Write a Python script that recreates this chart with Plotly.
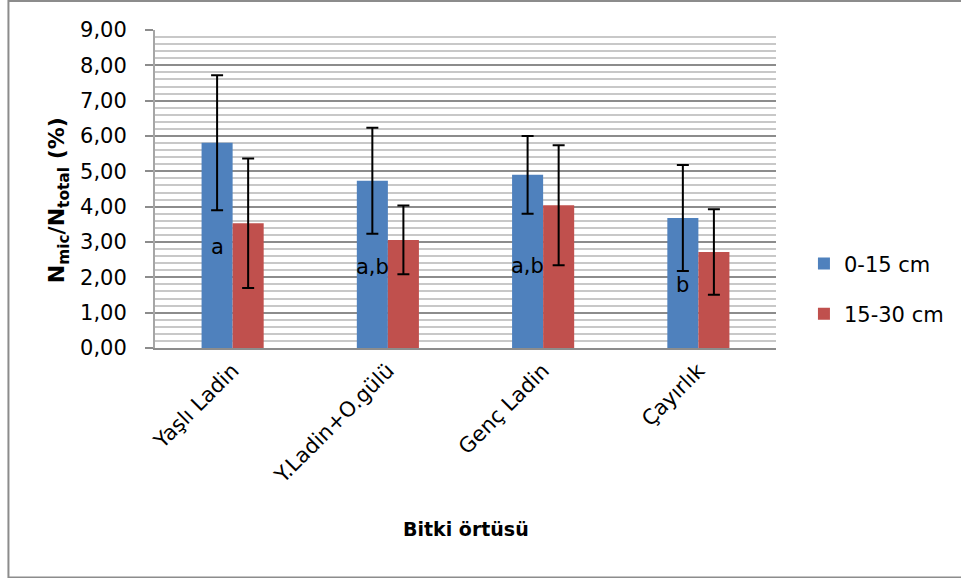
import plotly.graph_objects as go

categories = ["Yaşlı Ladin", "Y.Ladin+O.gülü", "Genç Ladin", "Çayırlık"]
series_names = ["0-15 cm", "15-30 cm"]
values_0_15 = [5.81, 4.73, 4.90, 3.68]
errors_0_15 = [1.91, 1.50, 1.10, 1.50]
values_15_30 = [3.53, 3.06, 4.04, 2.72]
errors_15_30 = [1.83, 0.97, 1.70, 1.21]
letters = ["a", "a,b", "a,b", "b"]
letter_y = [2.85, 2.30, 2.33, 1.78]
y_tick_vals = [0, 1, 2, 3, 4, 5, 6, 7, 8, 9]

FONT = "DejaVu Sans"
BLUE = "#4F81BD"
RED = "#C0504D"

fig = go.Figure()
fig.add_trace(go.Bar(
    x=categories, y=values_0_15, name=series_names[0], marker_color=BLUE,
    marker_line_width=0, legendgroup="g1",
    error_y=dict(type="data", array=errors_0_15, visible=True, color="black", thickness=2, width=6),
))
fig.add_trace(go.Bar(
    x=categories, y=values_15_30, name=series_names[1], marker_color=RED,
    marker_line_width=0, legendgroup="g2",
    error_y=dict(type="data", array=errors_15_30, visible=True, color="black", thickness=2, width=6),
))

# significance letters over the blue bars (offset group 0)
for i, (lab, yy) in enumerate(zip(letters, letter_y)):
    fig.add_annotation(
        x=i, y=yy, xref="x", yref="y", text=lab, showarrow=False,
        xshift=-15.5, yanchor="middle", xanchor="center",
        font=dict(family=FONT, size=21, color="black"),
    )

# axis titles
fig.add_annotation(
    x=-0.156, y=0.465, xref="paper", yref="paper", textangle=-90,
    xanchor="center", yanchor="middle",
    text="<b>N<sub>mic</sub>/N<sub>total</sub> (%)</b>", showarrow=False,
    font=dict(family=FONT, size=22, color="black"),
)
fig.add_annotation(
    x=0.5, y=-0.569, xref="paper", yref="paper", xanchor="center", yanchor="middle",
    text="<b>Bitki örtüsü</b>", showarrow=False,
    font=dict(family=FONT, size=19, color="black"),
)

# outer chart border
fig.add_shape(type="rect", xref="paper", yref="paper",
              x0=-0.236, x1=1.300, y0=-0.722, y1=1.091,
              line=dict(color="#8c8c8c", width=2), layer="below")

fig.update_layout(
    width=961, height=578,
    margin=dict(l=155, r=183, t=30, b=230),
    paper_bgcolor="white", plot_bgcolor="white",
    separators=",.",
    barmode="group", bargap=0.6, bargroupgap=0,
    font=dict(family=FONT, size=20, color="black"),
    showlegend=True,
    legend=dict(x=1.045, y=0.186, xanchor="left", yanchor="middle",
                font=dict(family=FONT, size=21, color="black"),
                tracegroupgap=20, itemwidth=30, bgcolor="rgba(0,0,0,0)"),
    xaxis=dict(
        tickangle=-45, showline=True, linecolor="#8c8c8c", linewidth=2,
        ticks="", showgrid=False, tickfont=dict(family=FONT, size=21),
    ),
    yaxis=dict(
        range=[0, 9], tickvals=y_tick_vals, tickformat=".2f",
        showline=True, linecolor="#a6a6a6", linewidth=2,
        ticks="outside", ticklen=8, tickcolor="#8c8c8c", tickwidth=2,
        ticklabelstandoff=14,
        showgrid=True, gridcolor="#8c8c8c", gridwidth=2,
        minor=dict(dtick=0.2, showgrid=True, gridcolor="#c8c8c8", gridwidth=2),
        zeroline=False, tickfont=dict(family=FONT, size=21),
    ),
)

fig.write_html("out.html", config={"displayModeBar": False},
               post_script="document.body.style.margin='0';")
